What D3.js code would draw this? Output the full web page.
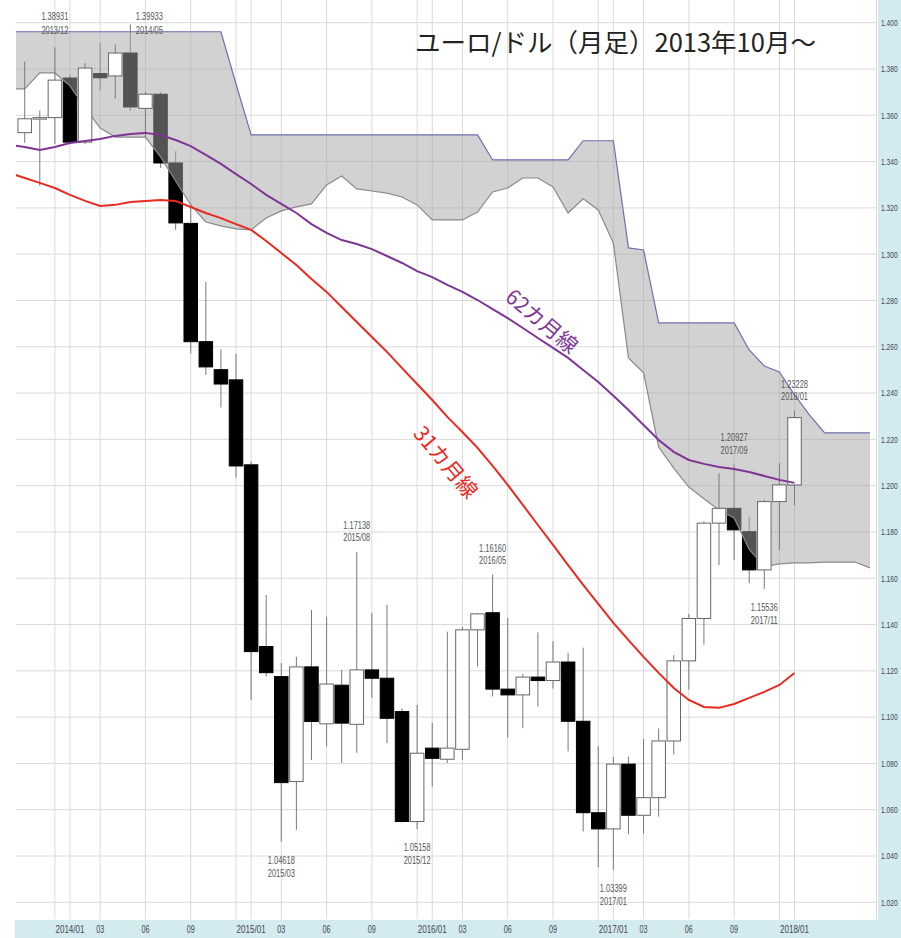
<!DOCTYPE html>
<html>
<head>
<meta charset="utf-8">
<script src="https://cdn.jsdelivr.net/npm/d3@7"></script>
<style>
  body { margin: 0; background: #fff; }
  svg { display: block; }
</style>
</head>
<body>
<svg id="chart" width="901" height="938"></svg>
<script>
// monthly candles, 2013/10 .. 2018/01
const months = d3.utcMonths(new Date(Date.UTC(2013, 9, 1)), new Date(Date.UTC(2018, 1, 1)))
  .map(d3.utcFormat("%Y/%m"));

const open = [1.3525, 1.3585, 1.3590, 1.3761, 1.3484, 1.3780, 1.3770, 1.3869, 1.3630, 1.3691,
  1.3394, 1.3133, 1.2622, 1.2501, 1.2457, 1.2090, 1.1305, 1.1175, 1.0722, 1.1217,
  1.0971, 1.1138, 1.0969, 1.1204, 1.1168, 1.1024, 1.0549, 1.0866, 1.0818, 1.0861,
  1.1377, 1.1451, 1.1121, 1.1096, 1.1173, 1.1158, 1.1238, 1.0982, 1.0587, 1.0517,
  1.0797, 1.0576, 1.0652, 1.0897, 1.1243, 1.1426, 1.1838, 1.1902, 1.1801, 1.1636,
  1.1931, 1.2003];
const high = [1.3832, 1.3621, 1.3893, 1.3775, 1.3825, 1.3912, 1.3906, 1.3993, 1.3700, 1.3700,
  1.3444, 1.3220, 1.2880, 1.2589, 1.2570, 1.2105, 1.1528, 1.1234, 1.1261, 1.1463,
  1.1434, 1.1204, 1.1714, 1.1450, 1.1485, 1.1038, 1.1053, 1.0975, 1.1369, 1.1390,
  1.1450, 1.1616, 1.1428, 1.1186, 1.1366, 1.1328, 1.1278, 1.1300, 1.0874, 1.0829,
  1.0829, 1.0906, 1.0951, 1.1268, 1.1446, 1.1846, 1.2053, 1.2093, 1.1866, 1.1940,
  1.2097, 1.2323];
const low = [1.3481, 1.3295, 1.3477, 1.3478, 1.3476, 1.3705, 1.3673, 1.3618, 1.3502, 1.3373,
  1.3105, 1.2571, 1.2478, 1.2338, 1.2035, 1.1074, 1.1175, 1.0462, 1.0513, 1.0815,
  1.0873, 1.0802, 1.0846, 1.1083, 1.0887, 1.0545, 1.0516, 1.0700, 1.0802, 1.0815,
  1.1218, 1.1089, 1.0912, 1.0952, 1.1046, 1.1123, 1.0852, 1.0506, 1.0352, 1.0340,
  1.0494, 1.0496, 1.0570, 1.0839, 1.1119, 1.1313, 1.1657, 1.1679, 1.1578, 1.1554,
  1.1722, 1.1916];
const close = [1.3585, 1.3590, 1.3752, 1.3484, 1.3804, 1.3762, 1.3869, 1.3636, 1.3691, 1.3394,
  1.3135, 1.2622, 1.2513, 1.2439, 1.2085, 1.1283, 1.1192, 1.0717, 1.1217, 1.0981,
  1.1143, 1.0974, 1.1204, 1.1168, 1.0995, 1.0549, 1.0844, 1.0822, 1.0866, 1.1377,
  1.1446, 1.1121, 1.1096, 1.1173, 1.1158, 1.1238, 1.0982, 1.0587, 1.0517, 1.0797,
  1.0576, 1.0652, 1.0897, 1.1243, 1.1426, 1.1838, 1.1902, 1.1809, 1.1636, 1.1931,
  1.2003, 1.2294];

// moving averages, starting one month earlier (2013/09)
const ma31 = [1.3351, 1.3329, 1.3308, 1.3286, 1.3256, 1.3230, 1.3208, 1.3213, 1.3225, 1.3230,
  1.3234, 1.3230, 1.3204, 1.3178, 1.3156, 1.3130, 1.3105, 1.3057, 1.3005, 1.2953,
  1.2893, 1.2837, 1.2772, 1.2707, 1.2642, 1.2578, 1.2508, 1.2439, 1.2370, 1.2297,
  1.2232, 1.2163, 1.2085, 1.2003, 1.1917, 1.1830, 1.1744, 1.1657, 1.1571, 1.1489,
  1.1407, 1.1333, 1.1260, 1.1191, 1.1126, 1.1074, 1.1044, 1.1040, 1.1057, 1.1083,
  1.1109, 1.1139, 1.1191];
const ma62 = [1.3472, 1.3463, 1.3450, 1.3463, 1.3480, 1.3489, 1.3498, 1.3511, 1.3519, 1.3524,
  1.3515, 1.3493, 1.3467, 1.3429, 1.3390, 1.3346, 1.3303, 1.3256, 1.3217, 1.3178,
  1.3130, 1.3092, 1.3061, 1.3044, 1.3022, 1.2992, 1.2962, 1.2927, 1.2901, 1.2867,
  1.2837, 1.2802, 1.2763, 1.2724, 1.2681, 1.2638, 1.2595, 1.2552, 1.2500, 1.2448,
  1.2388, 1.2327, 1.2262, 1.2197, 1.2146, 1.2111, 1.2094, 1.2081, 1.2072, 1.2059,
  1.2042, 1.2025, 1.2012];

// cloud spans, 2013/09 .. 2018/06
const spanA = [1.3714, 1.3714, 1.3783, 1.3783, 1.3727, 1.3632, 1.3545, 1.3506, 1.3506, 1.3506,
  1.3420, 1.3316, 1.3213, 1.3139, 1.3122, 1.3109, 1.3105, 1.3156, 1.3187, 1.3204,
  1.3217, 1.3299, 1.3338, 1.3282, 1.3273, 1.3264, 1.3247, 1.3213, 1.3148, 1.3148,
  1.3148, 1.3182, 1.3269, 1.3286, 1.3329, 1.3329, 1.3290, 1.3178, 1.3239, 1.3191,
  1.3048, 1.2552, 1.2487, 1.2167, 1.2076, 1.1994, 1.1943, 1.1895, 1.1860, 1.1725,
  1.1650, 1.1662, 1.1666, 1.1666, 1.1670, 1.1670, 1.1670, 1.1645];
const spanB = [1.3961, 1.3961, 1.3961, 1.3961, 1.3961, 1.3961, 1.3961, 1.3961, 1.3961, 1.3961,
  1.3961, 1.3961, 1.3961, 1.3961, 1.3961, 1.3735, 1.3515, 1.3515, 1.3515, 1.3515,
  1.3515, 1.3515, 1.3515, 1.3515, 1.3515, 1.3515, 1.3515, 1.3515, 1.3515, 1.3515,
  1.3515, 1.3515, 1.3407, 1.3407, 1.3407, 1.3407, 1.3407, 1.3407, 1.3490, 1.3490,
  1.3490, 1.3027, 1.3018, 1.2703, 1.2703, 1.2703, 1.2703, 1.2703, 1.2703, 1.2586,
  1.2517, 1.2491, 1.2392, 1.2305, 1.2228, 1.2228, 1.2228, 1.2228];

const yTicks = d3.range(102, 141, 2).map(v => v / 100);
const gridMonths = ["12", "01", "03", "06", "09"];
const labelMonths = ["01", "03", "06", "09"];

const extremeMonths = ["2013/12", "2014/05", "2015/03", "2015/08", "2015/12", "2016/05", "2017/01", "2017/09", "2017/11", "2018/01"];
const extremeKinds = ["high", "high", "low", "high", "low", "high", "low", "high", "low", "high"];
const extremeTexts = ["1.38931", "1.39933", "1.04618", "1.17138", "1.05158", "1.16160", "1.03399", "1.20927", "1.15536", "1.23228"];

const W = 901, H = 938;
const plot = { left: 16, right: 877, top: 0, bottom: 919 };

const x = d3.scaleLinear().domain([0, months.length - 1]).range([24.7, 794.5]);
const y = d3.scaleLinear().domain([1.02, 1.40]).range([902.3, 22.7]);
const bodyW = 13.5;

const svg = d3.select("#chart");
const narrow = "'Liberation Sans Narrow', 'Liberation Sans', sans-serif";
const jp = "'Noto Sans CJK JP', 'Noto Sans', sans-serif";

svg.append("rect").attr("width", W).attr("height", H).attr("fill", "#fff");

// axis strips
svg.append("rect").attr("x", 878).attr("y", 0).attr("width", W - 878).attr("height", H).attr("fill", "#d3eaee");
svg.append("rect").attr("x", 15).attr("y", 920).attr("width", W - 15).attr("height", H - 920).attr("fill", "#d3eaee");

svg.append("clipPath").attr("id", "clip")
  .append("rect")
  .attr("x", plot.left).attr("y", plot.top)
  .attr("width", plot.right - plot.left).attr("height", plot.bottom - plot.top);

const g = svg.append("g").attr("clip-path", "url(#clip)");

// grid
g.selectAll(".hgrid").data(yTicks).join("line")
  .attr("x1", plot.left).attr("x2", plot.right)
  .attr("y1", d => y(d)).attr("y2", d => y(d))
  .attr("stroke", "#dadada").attr("stroke-width", 1);

const gridIdx = months.map((m, i) => i).filter(i => gridMonths.includes(months[i].slice(5)));
g.selectAll(".vgrid").data(gridIdx).join("line")
  .attr("x1", d => x(d)).attr("x2", d => x(d))
  .attr("y1", plot.top).attr("y2", plot.bottom)
  .attr("stroke", "#dadada").attr("stroke-width", 1);

g.append("line")
  .attr("x1", plot.right - 0.5).attr("x2", plot.right - 0.5)
  .attr("y1", plot.top).attr("y2", plot.bottom)
  .attr("stroke", "#dadada");

const candles = months.map((m, i) => ({ i, m, o: open[i], h: high[i], l: low[i], c: close[i] }));
const down = candles.filter(d => d.c < d.o);
const up = candles.filter(d => d.c >= d.o);

const drawCandles = (sel, data, fill, stroke) => {
  const cg = sel.append("g");
  cg.selectAll("line").data(data).join("line")
    .attr("x1", d => x(d.i)).attr("x2", d => x(d.i))
    .attr("y1", d => y(d.h)).attr("y2", d => y(d.l))
    .attr("stroke", "#7a7a7a").attr("stroke-width", 1);
  cg.selectAll("rect").data(data).join("rect")
    .attr("x", d => x(d.i) - bodyW / 2)
    .attr("y", d => y(Math.max(d.o, d.c)))
    .attr("width", bodyW)
    .attr("height", d => Math.max(1.5, Math.abs(y(d.o) - y(d.c))))
    .attr("fill", fill).attr("stroke", stroke).attr("stroke-width", 1);
};

// black candles sit under the translucent cloud
drawCandles(g, down, "#000", "#000");

const cloud = spanA.map((a, j) => ({ i: j - 1, a, b: spanB[j] }));
g.append("path").datum(cloud)
  .attr("d", d3.area().x(d => x(d.i)).y0(d => y(d.a)).y1(d => y(d.b)))
  .attr("fill", "#a6a6a6").attr("fill-opacity", 0.5);
g.append("path").datum(cloud)
  .attr("d", d3.line().x(d => x(d.i)).y(d => y(d.a)))
  .attr("fill", "none").attr("stroke", "#8a8a8a").attr("stroke-width", 1.2);
g.append("path").datum(cloud)
  .attr("d", d3.line().x(d => x(d.i)).y(d => y(d.b)))
  .attr("fill", "none").attr("stroke", "#6f6fae").attr("stroke-width", 1.2);

drawCandles(g, up, "#fff", "#666");

// moving averages
const maLine = d3.line().x((d, j) => x(j - 1)).y(d => y(d));
g.append("path").datum(ma62).attr("d", maLine)
  .attr("fill", "none").attr("stroke", "#7e3596").attr("stroke-width", 2);
g.append("path").datum(ma31).attr("d", maLine)
  .attr("fill", "none").attr("stroke", "#ea2a20").attr("stroke-width", 2);

// high / low annotations (condensed text)
extremeMonths.forEach((m, k) => {
  const i = months.indexOf(m);
  const d = candles[i];
  let cx = x(i), y1, y2;
  if (extremeKinds[k] === "high") {
    const top = y(d.h);
    y1 = top - 23; y2 = top - 10.5;
    if (top < 60) {
      y1 = 20; y2 = 33.5;
      if (top < 38) cx += 19;
    }
  } else {
    const bot = y(d.l);
    y1 = bot + 22; y2 = bot + 35;
  }
  const t = svg.append("g").attr("font-family", narrow).attr("font-size", 10.5)
    .attr("fill", "#555").attr("text-anchor", "middle");
  t.append("text").attr("x", cx).attr("y", y1)
    .attr("textLength", 27).attr("lengthAdjust", "spacingAndGlyphs").text(extremeTexts[k]);
  t.append("text").attr("x", cx).attr("y", y2)
    .attr("textLength", 27).attr("lengthAdjust", "spacingAndGlyphs").text(m);
});

// right axis, squeezed horizontally like the original narrow font
svg.append("g").selectAll("text").data(yTicks).join("text")
  .attr("transform", d => `translate(881,${y(d)}) scale(0.7,1)`)
  .attr("dy", "0.35em")
  .attr("font-family", narrow).attr("font-size", 9.5).attr("fill", "#445")
  .text(d => d3.format(".3f")(d));

// bottom axis
const labelIdx = months.map((m, i) => i).filter(i => labelMonths.includes(months[i].slice(5)));
svg.append("g").selectAll("text").data(labelIdx).join("text")
  .attr("x", d => x(d)).attr("y", 933)
  .attr("text-anchor", "middle")
  .attr("font-family", narrow).attr("font-size", 10.5).attr("fill", "#445")
  .attr("textLength", d => months[d].slice(5) === "01" ? 29 : 8)
  .attr("lengthAdjust", "spacingAndGlyphs")
  .text(d => months[d].slice(5) === "01" ? months[d] : months[d].slice(5));

// titles
svg.append("text").attr("x", 415).attr("y", 52)
  .attr("font-family", jp).attr("font-size", 25.5).attr("fill", "#222")
  .text("ユーロ/ドル（月足）2013年10月～");

svg.append("text")
  .attr("transform", "translate(537,327) rotate(40)")
  .attr("text-anchor", "middle")
  .attr("font-family", jp).attr("font-size", 21).attr("fill", "#7e3596")
  .text("62カ月線");

svg.append("text")
  .attr("transform", "translate(440,467) rotate(50)")
  .attr("text-anchor", "middle")
  .attr("font-family", jp).attr("font-size", 21).attr("fill", "#ea2a20")
  .text("31カ月線");
</script>
</body>
</html>
